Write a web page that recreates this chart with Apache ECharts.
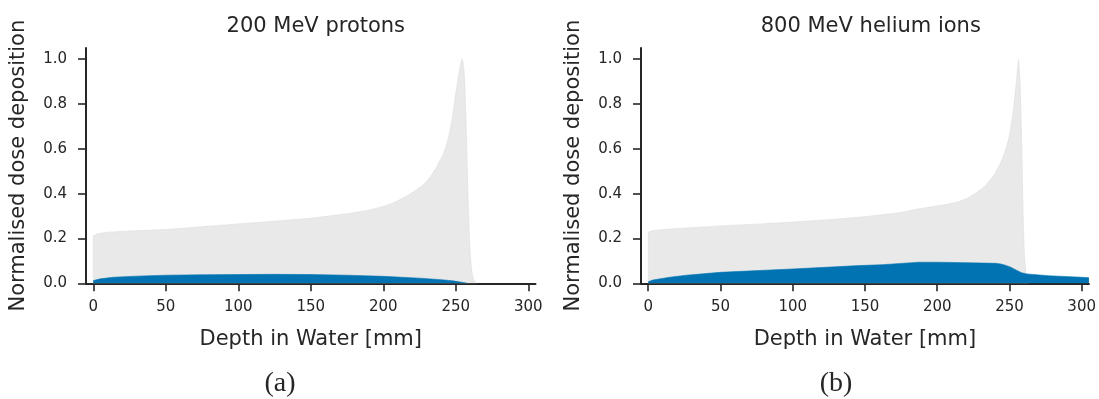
<!DOCTYPE html>
<html>
<head>
<meta charset="utf-8">
<script src="https://cdn.jsdelivr.net/npm/echarts@6/dist/echarts.min.js"></script>
<style>
  html, body { margin: 0; padding: 0; background: #fff; }
  #main { width: 1099px; height: 399px; }
</style>
</head>
<body>
<div id="main"></div>
<script>
// depth [mm] / normalised dose
var protonDepth = [0, 0, 3, 10, 25, 50, 75, 100, 125, 150, 175, 190, 200, 206, 211, 217, 223, 227, 230, 233, 236, 238.5, 241, 243, 244.5, 246, 247.5, 249, 250.3, 251.5, 252.8, 253.6, 254.3, 255, 255.7, 256.4, 257, 257.6, 258.2, 258.8, 259.3, 260, 260.7, 261.5, 262.5, 264];
var protonDose = [0, 0.211, 0.221, 0.228, 0.233, 0.24, 0.252, 0.265, 0.277, 0.29, 0.31, 0.326, 0.343, 0.356, 0.372, 0.392, 0.417, 0.436, 0.455, 0.48, 0.51, 0.54, 0.57, 0.605, 0.64, 0.68, 0.73, 0.8, 0.86, 0.91, 0.96, 0.985, 1.0, 0.99, 0.952, 0.86, 0.744, 0.6, 0.446, 0.32, 0.223, 0.13, 0.074, 0.035, 0.015, 0];
var protonSecDepth = [0, 5, 14, 30, 50, 75, 100, 125, 150, 175, 200, 225, 240, 248, 254, 258];
var protonSecDose = [0.012, 0.02, 0.027, 0.032, 0.036, 0.038, 0.039, 0.04, 0.039, 0.036, 0.031, 0.023, 0.016, 0.011, 0.005, 0];

var heliumDepth = [0, 0, 4, 15, 30, 50, 75, 100, 125, 150, 174, 188, 200, 208, 215, 221, 226.5, 230.5, 234, 237, 240, 242.5, 244.8, 246.5, 248, 249.5, 250.8, 252, 253, 254, 254.8, 255.6, 256.3, 256.9, 257.4, 258, 258.6, 259, 259.5, 260, 260.4, 261.4, 263];
var heliumDose = [0, 0.228, 0.236, 0.242, 0.248, 0.256, 0.264, 0.273, 0.284, 0.297, 0.315, 0.333, 0.345, 0.354, 0.364, 0.38, 0.402, 0.42, 0.44, 0.463, 0.49, 0.52, 0.55, 0.58, 0.61, 0.645, 0.69, 0.74, 0.79, 0.85, 0.9, 0.96, 1.0, 0.95, 0.893, 0.75, 0.595, 0.45, 0.297, 0.19, 0.119, 0.045, 0];
var heliumSecDepth = [0, 3.4, 15, 26.5, 50, 100, 146, 162, 187.4, 200, 220, 240.3, 244, 247, 250.5, 253.8, 258.4, 261.9, 276.8, 299.8, 305];
var heliumSecDose = [0.007, 0.015, 0.027, 0.036, 0.049, 0.064, 0.079, 0.083, 0.094, 0.094, 0.092, 0.089, 0.086, 0.081, 0.073, 0.062, 0.047, 0.042, 0.034, 0.027, 0.025];

var xTicks = [0, 50, 100, 150, 200, 250, 300];
var yTicks = [0, 0.2, 0.4, 0.6, 0.8, 1.0];
var titles = ["200 MeV protons", "800 MeV helium ions"];
var captions = ["(a)", "(b)"];

var grey = "#e9e9e9";
var blue = "#0173b2";
var ink = "#262626";
var font = "DejaVu Sans";

function zip(xs, ys) {
  var out = [];
  for (var i = 0; i < xs.length; i++) out.push([xs[i], ys[i]]);
  return out;
}

function xAxisFor(idx) {
  return {
    type: "value",
    gridIndex: idx,
    min: -5,
    max: 305,
    name: "Depth in Water [mm]",
    nameLocation: "middle",
    nameGap: 46,
    nameTextStyle: { fontFamily: font, fontSize: 21, color: ink },
    axisLine: { onZero: false, lineStyle: { color: ink, width: 2 } },
    axisTick: { show: true, length: 8, customValues: xTicks, lineStyle: { color: ink, width: 1.6 } },
    axisLabel: { customValues: xTicks, margin: 16, fontFamily: font, fontSize: 15, color: ink },
    splitLine: { show: false }
  };
}

function yAxisFor(idx) {
  return {
    type: "value",
    gridIndex: idx,
    min: 0,
    max: 1.05,
    name: "Normalised dose deposition",
    nameLocation: "middle",
    nameGap: 57,
    nameTextStyle: { fontFamily: font, fontSize: 21, color: ink },
    axisLine: { show: true, onZero: false, lineStyle: { color: ink, width: 2 } },
    axisTick: { show: true, length: 8, customValues: yTicks, lineStyle: { color: ink, width: 1.6 } },
    axisLabel: {
      customValues: yTicks,
      margin: 19,
      fontFamily: font,
      fontSize: 15,
      color: ink,
      formatter: function (v) { return v.toFixed(1); }
    },
    splitLine: { show: false }
  };
}

function area(name, idx, data, color, z) {
  return {
    name: name,
    type: "line",
    xAxisIndex: idx,
    yAxisIndex: idx,
    data: data,
    showSymbol: false,
    symbol: "none",
    z: z,
    lineStyle: { width: 0.6, color: color === grey ? "#dedede" : color },
    areaStyle: { color: color, opacity: 1 }
  };
}

var chart = echarts.init(document.getElementById("main"), null, { renderer: "canvas" });
chart.setOption({
  animation: false,
  backgroundColor: "#ffffff",
  textStyle: { fontFamily: font },
  title: [
    { text: titles[0], left: 310.8, top: 11, textAlign: "center",
      textStyle: { fontFamily: font, fontSize: 21, fontWeight: "normal", color: ink } },
    { text: titles[1], left: 865.8, top: 11, textAlign: "center",
      textStyle: { fontFamily: font, fontSize: 21, fontWeight: "normal", color: ink } },
    { text: captions[0], left: 275, top: 365, textAlign: "center",
      textStyle: { fontFamily: "Liberation Serif", fontSize: 28, fontWeight: "normal", color: ink } },
    { text: captions[1], left: 831, top: 365, textAlign: "center",
      textStyle: { fontFamily: "Liberation Serif", fontSize: 28, fontWeight: "normal", color: ink } }
  ],
  grid: [
    { left: 86, right: 563.5, top: 48, bottom: 115.7 },
    { left: 641, right: 8.5, top: 48, bottom: 115.7 }
  ],
  xAxis: [xAxisFor(0), xAxisFor(1)],
  yAxis: [yAxisFor(0), yAxisFor(1)],
  series: [
    area("protons", 0, zip(protonDepth, protonDose), grey, 2),
    area("protons secondary", 0, zip(protonSecDepth, protonSecDose), blue, 3),
    area("helium", 1, zip(heliumDepth, heliumDose), grey, 2),
    area("helium secondary", 1, zip(heliumSecDepth, heliumSecDose), blue, 3)
  ]
});
</script>
</body>
</html>
